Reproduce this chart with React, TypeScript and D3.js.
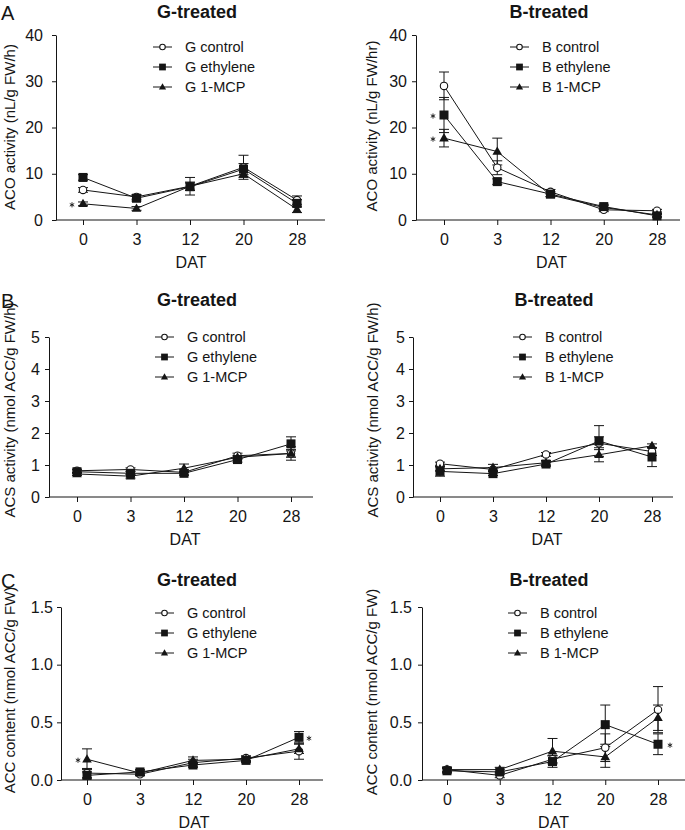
import React, { useEffect, useRef } from "react";
import * as d3 from "d3";

// days after treatment (categories)
const DAT = ["0", "3", "12", "20", "28"];
const G_NAMES = ["G control", "G ethylene", "G 1-MCP"];
const B_NAMES = ["B control", "B ethylene", "B 1-MCP"];

// A: ACO activity
const gAcoControl = [6.5, 5.0, 7.3, 11.4, 4.3];
const gAcoControlErr = [0.5, 0.5, 1.9, 2.6, 0.9];
const gAcoEthylene = [9.2, 4.7, 7.2, 11.0, 3.6];
const gAcoEthyleneErr = [0.6, 0.6, 0.8, 1.2, 0.8];
const gAcoMcp = [3.5, 2.5, 7.3, 10.0, 2.3];
const gAcoMcpErr = [0.4, 0.4, 0.9, 0.8, 0.7];

const bAcoControl = [29.0, 11.3, 6.1, 2.2, 2.0];
const bAcoControlErr = [3.0, 1.5, 0.5, 0.4, 0.3];
const bAcoEthylene = [22.7, 8.3, 5.6, 2.9, 0.9];
const bAcoEthyleneErr = [3.8, 0.6, 0.5, 0.5, 0.3];
const bAcoMcp = [17.7, 14.8, 5.4, 2.7, 1.1];
const bAcoMcpErr = [1.9, 2.9, 0.4, 0.4, 0.3];

// B: ACS activity
const gAcsControl = [0.82, 0.86, 0.77, 1.29, 1.36];
const gAcsControlErr = [0.05, 0.05, 0.08, 0.08, 0.21];
const gAcsEthylene = [0.79, 0.74, 0.74, 1.17, 1.66];
const gAcsEthyleneErr = [0.06, 0.05, 0.06, 0.08, 0.22];
const gAcsMcp = [0.72, 0.65, 0.9, 1.24, 1.36];
const gAcsMcpErr = [0.05, 0.06, 0.13, 0.06, 0.12];

const bAcsControl = [1.04, 0.86, 1.33, 1.68, 1.42];
const bAcsControlErr = [0.05, 0.06, 0.06, 0.2, 0.12];
const bAcsEthylene = [0.8, 0.73, 1.03, 1.75, 1.25];
const bAcsEthyleneErr = [0.15, 0.06, 0.07, 0.48, 0.3];
const bAcsMcp = [0.88, 0.92, 1.07, 1.32, 1.6];
const bAcsMcpErr = [0.06, 0.1, 0.07, 0.22, 0.06];

// C: ACC content
const gAccControl = [0.06, 0.05, 0.15, 0.19, 0.25];
const gAccControlErr = [0.04, 0.01, 0.03, 0.02, 0.07];
const gAccEthylene = [0.04, 0.07, 0.13, 0.17, 0.37];
const gAccEthyleneErr = [0.03, 0.02, 0.02, 0.02, 0.05];
const gAccMcp = [0.18, 0.06, 0.17, 0.18, 0.27];
const gAccMcpErr = [0.09, 0.02, 0.03, 0.02, 0.04];

const bAccControl = [0.09, 0.04, 0.18, 0.28, 0.61];
const bAccControlErr = [0.02, 0.02, 0.03, 0.12, 0.2];
const bAccEthylene = [0.08, 0.07, 0.16, 0.48, 0.31];
const bAccEthyleneErr = [0.02, 0.02, 0.05, 0.17, 0.09];
const bAccMcp = [0.09, 0.09, 0.25, 0.2, 0.54];
const bAccMcpErr = [0.02, 0.02, 0.11, 0.09, 0.11];

const FONT = "'Liberation Sans', Arial, Helvetica, sans-serif";
const INK = "#151515";

const panels = [
  {
    letter: "A", title: "G-treated", names: G_NAMES, ylabel: "ACO activity (nL/g FW/h)",
    yMax: 40, yTicks: [0, 10, 20, 30, 40], fmt: d3.format("d"),
    series: [[gAcoControl, gAcoControlErr], [gAcoEthylene, gAcoEthyleneErr], [gAcoMcp, gAcoMcpErr]],
    stars: [{ s: 2, i: 0, dx: -11 }],
    box: { axisX: 56, axisEnd: 325, x0: 83, x1: 297, yTop: 35, yBottom: 220, yPad: 9, titleX: 197, titleY: 18, labelX: 10, labelY: 127, legX: 153, legY: 47 }
  },
  {
    letter: "", title: "B-treated", names: B_NAMES, ylabel: "ACO activity (nL/g FW/hr)",
    yMax: 40, yTicks: [0, 10, 20, 30, 40], fmt: d3.format("d"),
    series: [[bAcoControl, bAcoControlErr], [bAcoEthylene, bAcoEthyleneErr], [bAcoMcp, bAcoMcpErr]],
    stars: [{ s: 1, i: 0, dx: -11 }, { s: 2, i: 0, dx: -11 }],
    box: { axisX: 416, axisEnd: 680, x0: 444, x1: 657, yTop: 35, yBottom: 220, yPad: 5, titleX: 549, titleY: 18, labelX: 372, labelY: 126, legX: 510, legY: 47 }
  },
  {
    letter: "B", title: "G-treated", names: G_NAMES, ylabel: "ACS activity (nmol ACC/g FW/h)",
    yMax: 5, yTicks: [0, 1, 2, 3, 4, 5], fmt: d3.format("d"),
    series: [[gAcsControl, gAcsControlErr], [gAcsEthylene, gAcsEthyleneErr], [gAcsMcp, gAcsMcpErr]],
    stars: [],
    box: { axisX: 49, axisEnd: 313, x0: 77, x1: 291, yTop: 337, yBottom: 497, yPad: 5, titleX: 197, titleY: 306, labelX: 10, labelY: 410, legX: 155, legY: 337 }
  },
  {
    letter: "", title: "B-treated", names: B_NAMES, ylabel: "ACS activity (nmol ACC/g FW/h)",
    yMax: 5, yTicks: [0, 1, 2, 3, 4, 5], fmt: d3.format("d"),
    series: [[bAcsControl, bAcsControlErr], [bAcsEthylene, bAcsEthyleneErr], [bAcsMcp, bAcsMcpErr]],
    stars: [],
    box: { axisX: 413, axisEnd: 673, x0: 440, x1: 652, yTop: 337, yBottom: 497, yPad: 4, titleX: 554, titleY: 306, labelX: 373, labelY: 410, legX: 513, legY: 337 }
  },
  {
    letter: "C", title: "G-treated", names: G_NAMES, ylabel: "ACC content (nmol ACC/g FW)",
    yMax: 1.5, yTicks: [0, 0.5, 1.0, 1.5], fmt: d3.format(".1f"),
    series: [[gAccControl, gAccControlErr], [gAccEthylene, gAccEthyleneErr], [gAccMcp, gAccMcpErr]],
    stars: [{ s: 2, i: 0, dx: -9 }, { s: 1, i: 4, dx: 10 }],
    box: { axisX: 61, axisEnd: 323, x0: 87, x1: 299, yTop: 607, yBottom: 780, yPad: 4, titleX: 197, titleY: 586, labelX: 10, labelY: 690, legX: 155, legY: 613 }
  },
  {
    letter: "", title: "B-treated", names: B_NAMES, ylabel: "ACC content (nmol ACC/g FW)",
    yMax: 1.5, yTicks: [0, 0.5, 1.0, 1.5], fmt: d3.format(".1f"),
    series: [[bAccControl, bAccControlErr], [bAccEthylene, bAccEthyleneErr], [bAccMcp, bAccMcpErr]],
    stars: [{ s: 1, i: 4, dx: 12 }],
    box: { axisX: 422, axisEnd: 685, x0: 447, x1: 658, yTop: 607, yBottom: 780, yPad: 6, titleX: 549, titleY: 586, labelX: 372, labelY: 692, legX: 508, legY: 613 }
  }
];

// marker shapes: open circle, filled square, filled triangle
const drawMarker = (sel, kind, cx, cy, scale = 1) => {
  if (kind === 0) {
    sel.append("circle").attr("cx", cx).attr("cy", cy).attr("r", 3.7 * scale)
      .attr("fill", "#fff").attr("stroke", INK).attr("stroke-width", 1.1);
  } else if (kind === 1) {
    const s = 9 * scale;
    sel.append("rect").attr("x", cx - s / 2).attr("y", cy - s / 2).attr("width", s).attr("height", s).attr("fill", INK);
  } else {
    const sym = d3.symbol().type(d3.symbolTriangle).size(40 * scale * scale);
    sel.append("path").attr("d", sym()).attr("transform", `translate(${cx},${cy + 0.5})`).attr("fill", INK);
  }
};

export default function App() {
  const svgRef = useRef(null);

  useEffect(() => {
    const svg = d3.select(svgRef.current);
    svg.selectAll("*").remove();

    panels.forEach(p => {
      const b = p.box;
      const g = svg.append("g");

      const x = d3.scalePoint().domain(DAT).range([b.x0, b.x1]);
      const y = d3.scaleLinear().domain([0, p.yMax]).range([b.yBottom, b.yTop]);

      // panel letter
      if (p.letter) {
        g.append("text").attr("x", 1).attr("y", b.titleY + 2)
          .style("font-family", FONT).style("font-size", "20px").attr("fill", INK).text(p.letter);
      }

      // title
      g.append("text").attr("x", b.titleX).attr("y", b.titleY).attr("text-anchor", "middle")
        .style("font-family", FONT).style("font-size", "18px").style("font-weight", "bold")
        .attr("fill", INK).text(p.title);

      // y axis
      const ya = g.append("g").attr("transform", `translate(${b.axisX},0)`)
        .call(d3.axisLeft(y).tickValues(p.yTicks).tickFormat(p.fmt).tickSize(4).tickSizeOuter(0).tickPadding(b.yPad));
      ya.selectAll("path,line").attr("stroke", INK);
      ya.selectAll("text").style("font-family", FONT).style("font-size", "16px").attr("fill", INK);

      // x axis
      const xa = g.append("g").attr("transform", `translate(0,${b.yBottom})`)
        .call(d3.axisBottom(x).tickSize(5).tickPadding(9));
      xa.select(".domain").remove();
      xa.selectAll("line").attr("stroke", INK);
      xa.selectAll("text").style("font-family", FONT).style("font-size", "16px").attr("fill", INK);
      g.append("line").attr("x1", b.axisX).attr("x2", b.axisEnd)
        .attr("y1", b.yBottom).attr("y2", b.yBottom).attr("stroke", INK);

      // axis titles
      g.append("text").attr("x", (b.x0 + b.x1) / 2 + 1).attr("y", b.yBottom + 48).attr("text-anchor", "middle")
        .style("font-family", FONT).style("font-size", "16px").attr("fill", INK).text("DAT");
      g.append("text").attr("text-anchor", "middle")
        .attr("transform", `translate(${b.labelX + 5},${b.labelY})rotate(-90)`)
        .style("font-family", FONT).style("font-size", "15px").attr("fill", INK).text(p.ylabel);

      const line = d3.line().x((d, i) => x(DAT[i])).y(d => y(d));

      // connecting lines
      p.series.forEach(([vals]) => {
        g.append("path").attr("d", line(vals)).attr("fill", "none")
          .attr("stroke", INK).attr("stroke-width", 1);
      });

      // error bars
      p.series.forEach(([vals, errs]) => {
        vals.forEach((v, i) => {
          const cx = x(DAT[i]);
          const top = y(v + errs[i]);
          const bot = y(Math.max(0, v - errs[i]));
          g.append("line").attr("x1", cx).attr("x2", cx).attr("y1", top).attr("y2", bot).attr("stroke", INK);
          [top, bot].forEach(yy => {
            g.append("line").attr("x1", cx - 5).attr("x2", cx + 5).attr("y1", yy).attr("y2", yy).attr("stroke", INK);
          });
        });
      });

      // markers
      p.series.forEach(([vals], k) => {
        vals.forEach((v, i) => drawMarker(g, k, x(DAT[i]), y(v)));
      });

      // significance stars
      const star = d3.symbol().type(d3.symbolAsterisk).size(18);
      p.stars.forEach(st => {
        g.append("path").attr("d", star())
          .attr("transform", `translate(${x(DAT[st.i]) + st.dx},${y(p.series[st.s][0][st.i]) + 1})`)
          .attr("fill", "none").attr("stroke", INK).attr("stroke-width", 0.9);
      });

      // legend
      p.names.forEach((name, k) => {
        const ly = b.legY + k * 20;
        g.append("line").attr("x1", b.legX).attr("x2", b.legX + 19).attr("y1", ly).attr("y2", ly)
          .attr("stroke", INK).attr("stroke-width", 1);
        drawMarker(g, k, b.legX + 9.5, ly, 0.75);
        g.append("text").attr("x", b.legX + 32).attr("y", ly).attr("dy", "0.35em")
          .style("font-family", FONT).style("font-size", "14.5px").attr("fill", INK).text(name);
      });
    });
  }, []);

  return (
    <div>
      <svg ref={svgRef} width={685} height={830}
        style={{ position: "absolute", left: 0, top: 0, background: "#fff" }} />
    </div>
  );
}
